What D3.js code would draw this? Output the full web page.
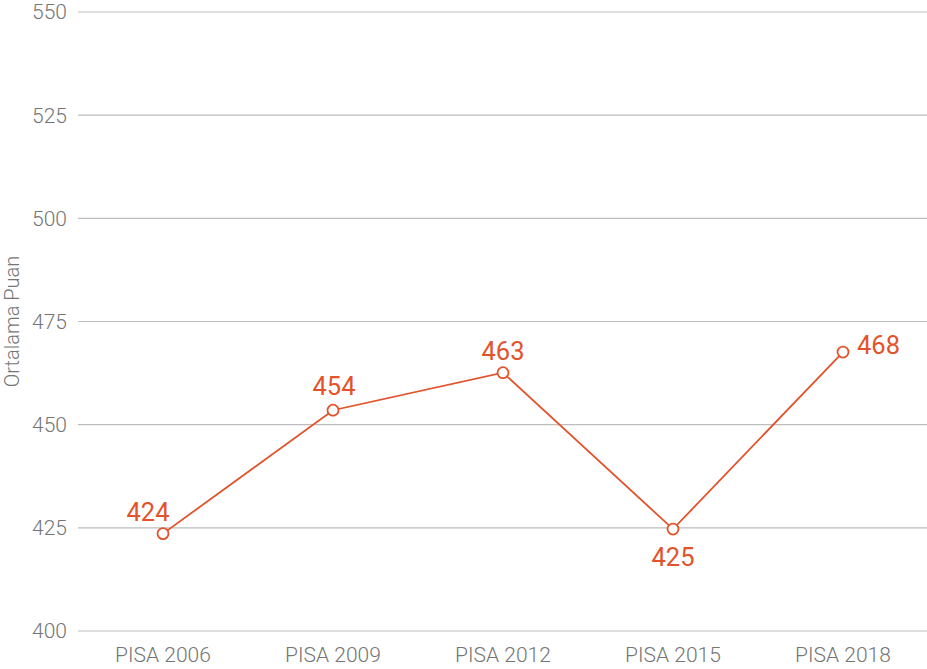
<!DOCTYPE html>
<html><head><meta charset="utf-8">
<script src="https://cdn.jsdelivr.net/npm/d3@7"></script>
<style>body{margin:0;background:#fff}svg{display:block}</style>
</head><body>
<svg id="c" width="927" height="669"></svg>
<script>
const categories = ["PISA 2006","PISA 2009","PISA 2012","PISA 2015","PISA 2018"];
const values = [423.6, 453.5, 462.6, 424.7, 467.6];
const labels = ["424","454","463","425","468"];
const yTicks = [400,425,450,475,500,525,550];
const yTitle = "Ortalama Puan";

(function(){
const svg = d3.select("#c");
const mLeft = 78, mRight = 928, mTop = 12, mBottom = 631;
const x = d3.scaleBand().domain(categories).range([mLeft, mRight]);
const y = d3.scaleLinear().domain([400,550]).range([mBottom, mTop]);
const color = "#e2532b";

svg.append("g").selectAll("line").data(yTicks).join("line")
  .attr("x1", mLeft).attr("x2", 927)
  .attr("y1", d => y(d)).attr("y2", d => y(d))
  .attr("stroke", "#bdbdbd").attr("stroke-width", 1.2);

svg.append("g").selectAll("text").data(yTicks).join("text")
  .attr("x", 67).attr("y", d => y(d)).attr("dy", "0.35em")
  .attr("text-anchor", "end")
  .style("font-family", "Roboto").style("font-weight", 300)
  .style("font-size", "21px").attr("fill", "#757575")
  .text(d => d);

svg.append("g").selectAll("text").data(categories).join("text")
  .attr("x", d => x(d) + x.bandwidth()/2).attr("y", 662)
  .attr("text-anchor", "middle")
  .style("font-family", "Roboto").style("font-weight", 300)
  .style("font-size", "21px").attr("fill", "#757575")
  .text(d => d);

svg.append("text")
  .attr("transform", `translate(19,${(mTop+mBottom)/2}) rotate(-90)`)
  .attr("text-anchor", "middle")
  .style("font-family", "Roboto").style("font-weight", 300)
  .style("font-size", "20px").attr("fill", "#757575")
  .text(yTitle);

const pts = categories.map((c,i) => ({c, v: values[i], l: labels[i], i}));
const cx = d => x(d.c) + x.bandwidth()/2;

svg.append("path").datum(pts)
  .attr("d", d3.line().x(cx).y(d => y(d.v)))
  .attr("fill", "none").attr("stroke", color).attr("stroke-width", 1.8);

svg.append("g").selectAll("circle").data(pts).join("circle")
  .attr("cx", cx).attr("cy", d => y(d.v)).attr("r", 5.5)
  .attr("fill", "#fff").attr("stroke", color).attr("stroke-width", 1.8);

const place = [[-15,-13,"middle"],[1,-15,"middle"],[0,-13,"middle"],[0,37,"middle"],[14,2,"start"]];
svg.append("g").selectAll("text").data(pts).join("text")
  .attr("x", d => cx(d) + place[d.i][0])
  .attr("y", d => y(d.v) + place[d.i][1])
  .attr("text-anchor", d => place[d.i][2])
  .style("font-family", "Roboto").style("font-size", "25.5px")
  .attr("fill", color)
  .text(d => d.l);
})();
</script>
</body></html>
